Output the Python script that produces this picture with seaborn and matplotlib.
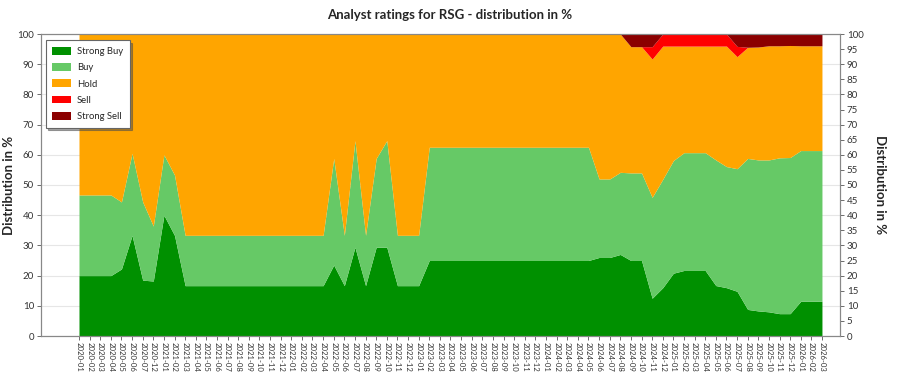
import matplotlib
matplotlib.use("Agg")
import matplotlib.pyplot as plt
import seaborn as sns
from matplotlib.patches import Patch

# ---- data ----
months = (["2020-01", "2020-02", "2020-03", "2020-04", "2020-05", "2020-06", "2020-07", "2020-12"]
          + [f"{y}-{m:02d}" for y in (2021, 2022, 2023, 2024, 2025) for m in range(1, 13)]
          + ["2026-01", "2026-02", "2026-03"])

strong_buy = [20, 20, 20, 20, 22.2, 33.3, 18.5, 18.2, 40, 33.3,
              16.67, 16.67, 16.67, 16.67, 16.67, 16.67, 16.67, 16.67, 16.67, 16.67,
              16.67, 16.67, 16.67, 16.67, 23.5, 16.67, 29.4, 16.67, 29.4, 29.4,
              16.67, 16.67, 16.67, 25, 25, 25, 25, 25, 25, 25,
              25, 25, 25, 25, 25, 25, 25, 25, 25, 26,
              26, 27, 25, 25, 12.5, 16, 20.8, 21.7, 21.7, 21.7,
              16.7, 16, 14.8, 8.8, 8.3, 8, 7.4, 7.4, 11.5, 11.5,
              11.5]

buy = [26.7, 26.7, 26.7, 26.7, 22.2, 27.2, 25.9, 18.2, 20, 20,
       16.67, 16.67, 16.67, 16.67, 16.67, 16.67, 16.67, 16.67, 16.67, 16.67,
       16.67, 16.67, 16.67, 16.67, 35.3, 16.67, 35.3, 16.67, 29.4, 35.3,
       16.67, 16.67, 16.67, 37.5, 37.5, 37.5, 37.5, 37.5, 37.5, 37.5,
       37.5, 37.5, 37.5, 37.5, 37.5, 37.5, 37.5, 37.5, 37.5, 26,
       26, 27.2, 29, 29, 33.4, 35.9, 37.3, 39, 39, 39,
       41.6, 40.1, 40.6, 50, 50, 50.3, 51.6, 51.7, 49.9, 49.9,
       49.9]

hold = [53.3, 53.3, 53.3, 53.3, 55.6, 39.5, 55.6, 63.6, 40, 46.7,
        66.67, 66.67, 66.67, 66.67, 66.67, 66.67, 66.67, 66.67, 66.67, 66.67,
        66.67, 66.67, 66.67, 66.67, 41.2, 66.67, 35.3, 66.67, 41.2, 35.3,
        66.67, 66.67, 66.67, 37.5, 37.5, 37.5, 37.5, 37.5, 37.5, 37.5,
        37.5, 37.5, 37.5, 37.5, 37.5, 37.5, 37.5, 37.5, 37.5, 48,
        48, 45.8, 41.8, 41.8, 45.8, 44.1, 37.9, 35.3, 35.3, 35.3,
        37.7, 39.9, 37.1, 36.8, 37.4, 37.8, 37.1, 37.1, 34.7, 34.7,
        34.7]

sell = [0] * 54 + [4.1, 4.0, 4.0, 4.0, 4.0, 4.0, 4.0, 4.0, 3.4] + [0] * 8

strong_sell = ([0] * 52 + [4.2, 4.2, 4.2] + [0] * 7
               + [4.1, 4.4, 4.3, 3.9, 3.9, 3.8, 3.9, 3.9, 3.9])

series_names = ["Strong Buy", "Buy", "Hold", "Sell", "Strong Sell"]
series_colors = ["#009000", "#66c966", "#ffa500", "#ff0000", "#8b0000"]

# ---- plot ----
sns.set_theme(style="white")
plt.rcParams["font.family"] = ["Lato", "DejaVu Sans"]

fig = plt.figure(figsize=(9, 3.75), dpi=100)
ax = fig.add_axes([41 / 900, 1 - 336 / 375, (840 - 41) / 900, (336 - 34) / 375])

x = list(range(len(months)))
ax.yaxis.grid(True, color="#e6e6e6", linewidth=0.8)
ax.set_axisbelow(True)
ax.stackplot(x, strong_buy, buy, hold, sell, strong_sell,
             colors=series_colors, linewidth=0, zorder=2)

ax.set_ylim(0, 100)
ax.set_xlim(-3.58, 71.7)
ax.set_yticks(range(0, 101, 10))
ax.set_xticks(x)
ax.set_xticklabels(months, rotation=-90, fontsize=5.6, color="#333333")
ax.tick_params(axis="x", length=3, width=0.6, pad=1, direction="out", bottom=True, color="#555555")
ax.tick_params(axis="y", length=3, width=0.6, pad=2, labelsize=7, left=True, color="#555555",
               labelcolor="#333333")
ax.set_ylabel("Distribution in %", fontsize=9.5, fontweight="bold", labelpad=2)

for sp in ax.spines.values():
    sp.set_color("#888888")
    sp.set_linewidth(0.8)

ax2 = ax.twinx()
ax2.set_ylim(0, 100)
ax2.set_yticks(range(0, 101, 5))
ax2.tick_params(axis="y", length=3, width=0.6, pad=2, labelsize=7, right=True, color="#555555",
                labelcolor="#333333")
ax2.set_ylabel("Distribution in %", fontsize=9.5, fontweight="bold", rotation=-90, labelpad=16)
for sp in ax2.spines.values():
    sp.set_color("#888888")
    sp.set_linewidth(0.8)

fig.suptitle("Analyst ratings for RSG - distribution in %", fontsize=9.5, fontweight="bold",
             x=0.5, y=0.975)

handles = [Patch(facecolor=c, edgecolor="none", label=n) for n, c in zip(series_names, series_colors)]
leg = ax.legend(handles=handles, loc="upper left", bbox_to_anchor=(0.0, 0.995), fontsize=6.8,
                frameon=True, fancybox=False, shadow=True, edgecolor="#666666",
                handlelength=2.0, handleheight=0.9, labelspacing=0.75, borderpad=0.7,
                handletextpad=0.6)
leg.get_frame().set_linewidth(0.8)
leg.set_zorder(10)

fig.savefig("out.png", dpi=100)
